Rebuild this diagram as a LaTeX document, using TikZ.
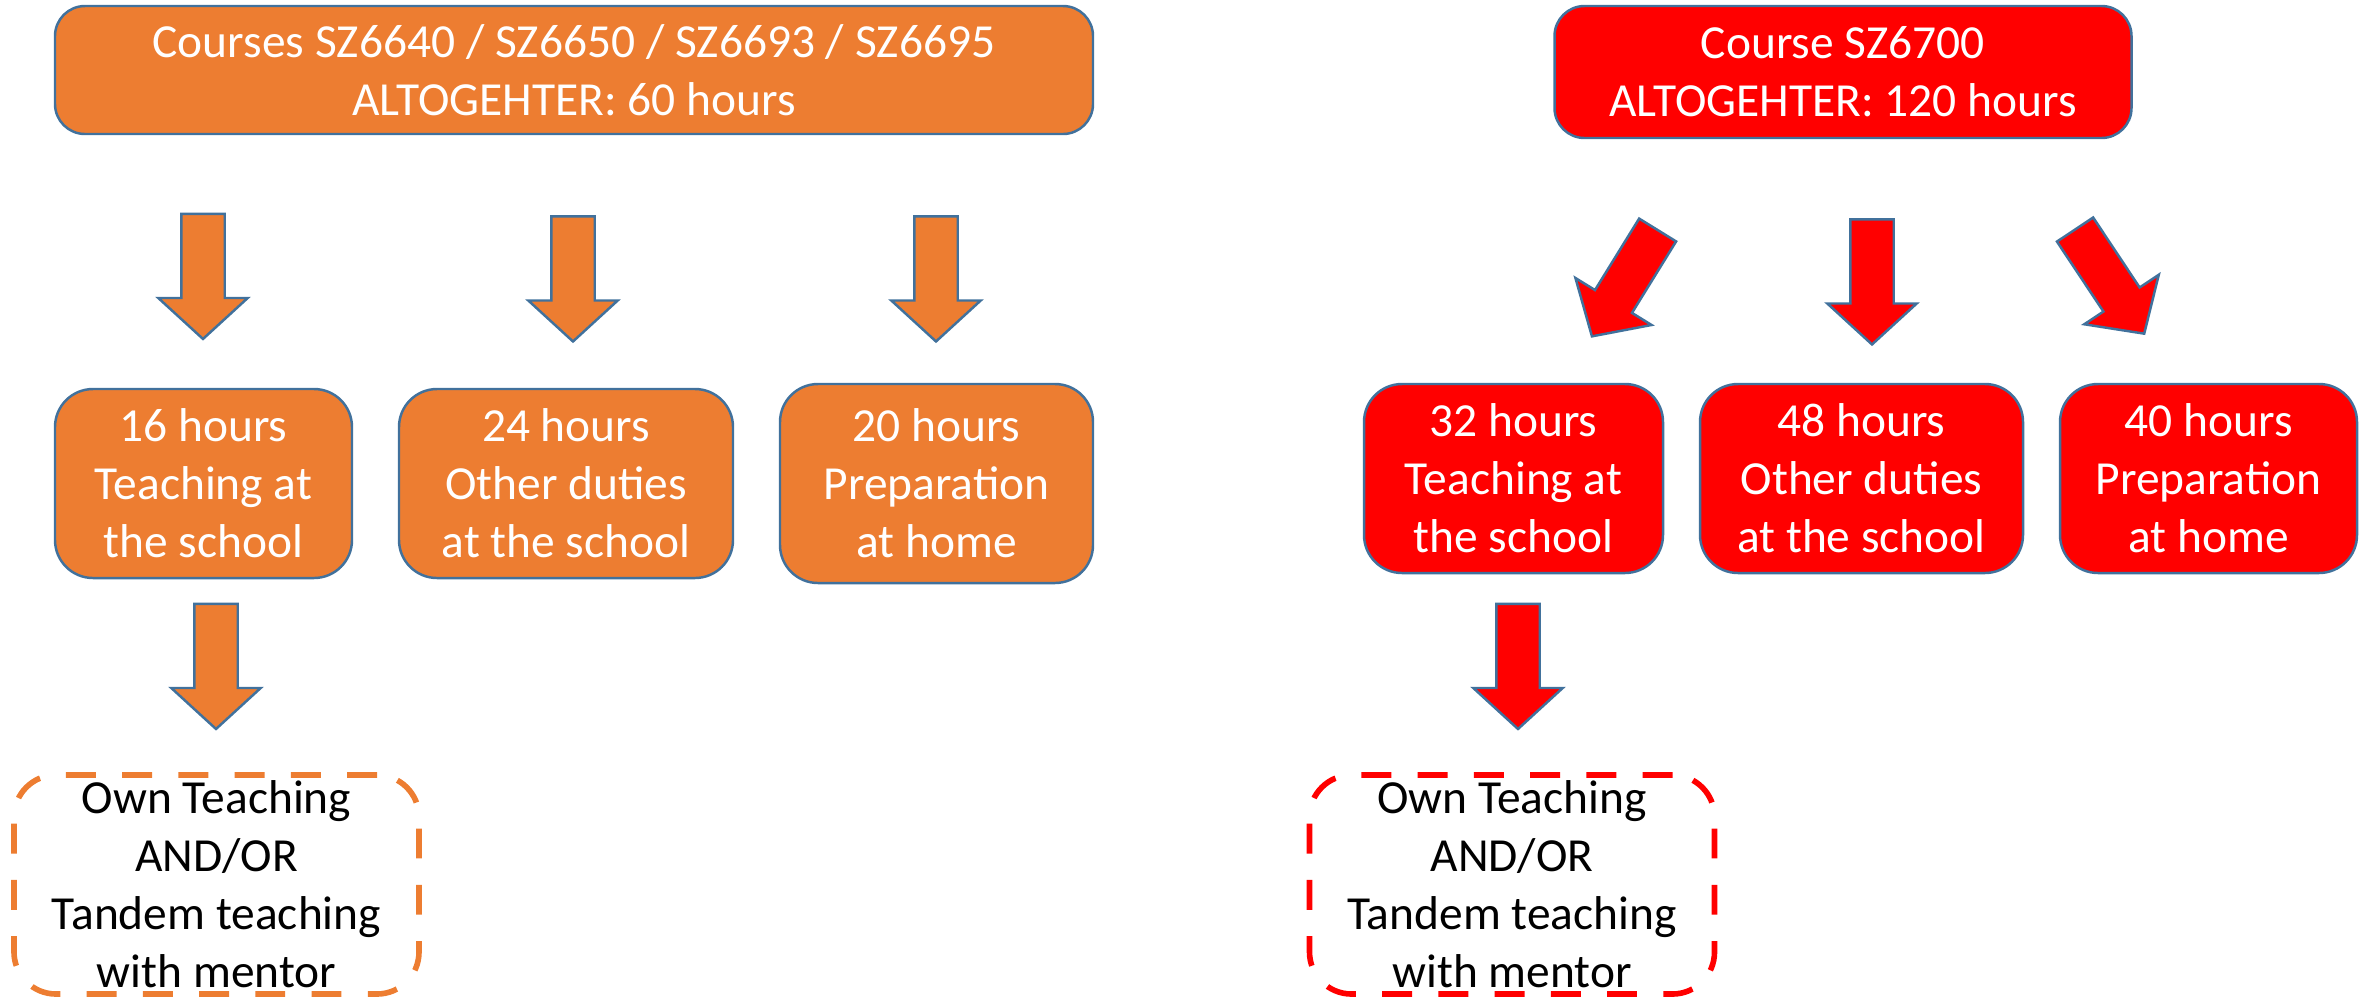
\documentclass[tikz,border=0pt]{standalone}
\usepackage{fontspec}
\setmainfont{Carlito}
\usetikzlibrary{shapes.arrows}

\definecolor{courseorange}{HTML}{ED7D31}
\definecolor{coursered}{HTML}{FF0000}
\definecolor{rimblue}{HTML}{41719C}

\tikzset{
  txt/.style={font=\fontsize{13.5}{16.5}\selectfont, align=center},
  coursebox/.style={txt, draw=rimblue, line width=0.7pt, text=white, inner sep=0pt, rounded corners=0.3cm},
  hoursbox/.style={coursebox, rounded corners=0.38cm, minimum height=1.89cm},
  mentorbox/.style={txt, draw, line width=1.6pt, dash pattern=on 8.5pt off 7.5pt, rounded corners=0.42cm, inner sep=0pt, minimum width=4.05cm, minimum height=2.19cm},
  bigarrow/.style={single arrow, draw=rimblue, line width=0.7pt, inner xsep=0pt, inner ysep=0.205cm, minimum height=1.25cm, single arrow head extend=0.23cm, single arrow tip angle=95}
}

\begin{document}
\begin{tikzpicture}
  \useasboundingbox (0,0) rectangle (23.59,-9.98);
  \clip (0,0) rectangle (23.59,-9.98);

  \node (c1) at (5.74,-0.70) [coursebox, fill=courseorange, minimum width=10.38cm, minimum height=1.28cm]{Courses SZ6640 / SZ6650 / SZ6693 / SZ6695\\ALTOGEHTER: 60 hours};
  \node (c2) at (18.43,-0.72) [coursebox, fill=coursered, minimum width=5.77cm, minimum height=1.32cm]{Course SZ6700\\ALTOGEHTER: 120 hours};

  \node (o1) at (2.035,-4.835) [hoursbox, fill=courseorange, minimum width=2.97cm]{16 hours\\Teaching at\\the school};
  \node (o2) at (5.66,-4.835) [hoursbox, fill=courseorange, minimum width=3.34cm]{24 hours\\Other duties\\at the school};
  \node (o3) at (9.365,-4.835) [hoursbox, fill=courseorange, minimum width=3.13cm, minimum height=1.99cm]{20 hours\\Preparation\\at home};

  \node (r1) at (15.135,-4.785) [hoursbox, fill=coursered, minimum width=2.99cm]{32 hours\\Teaching at\\the school};
  \node (r2) at (18.615,-4.785) [hoursbox, fill=coursered, minimum width=3.23cm]{48 hours\\Other duties\\at the school};
  \node (r3) at (22.085,-4.785) [hoursbox, fill=coursered, minimum width=2.97cm]{40 hours\\Preparation\\at home};

  \node (m1) at (2.165,-8.845) [mentorbox, draw=courseorange]{Own Teaching\\AND/OR\\Tandem teaching\\with mentor};
  \node (m2) at (15.12,-8.845) [mentorbox, draw=coursered]{Own Teaching\\AND/OR\\Tandem teaching\\with mentor};

  \node (a1) at (2.03,-2.665) [bigarrow, fill=courseorange, rotate=-90]{};
  \node (a2) at (5.73,-2.69) [bigarrow, fill=courseorange, rotate=-90]{};
  \node (a3) at (9.36,-2.69) [bigarrow, fill=courseorange, rotate=-90]{};
  \node (a4) at (2.16,-6.565) [bigarrow, fill=courseorange, rotate=-90]{};

  \node (b1) at (16.30,-2.747) [bigarrow, fill=coursered, rotate=238.3]{};
  \node (b2) at (18.72,-2.72) [bigarrow, fill=coursered, rotate=-90]{};
  \node (b3) at (21.041,-2.733) [bigarrow, fill=coursered, rotate=-56.4]{};
  \node (b4) at (15.18,-6.565) [bigarrow, fill=coursered, rotate=-90]{};

\end{tikzpicture}
\end{document}
